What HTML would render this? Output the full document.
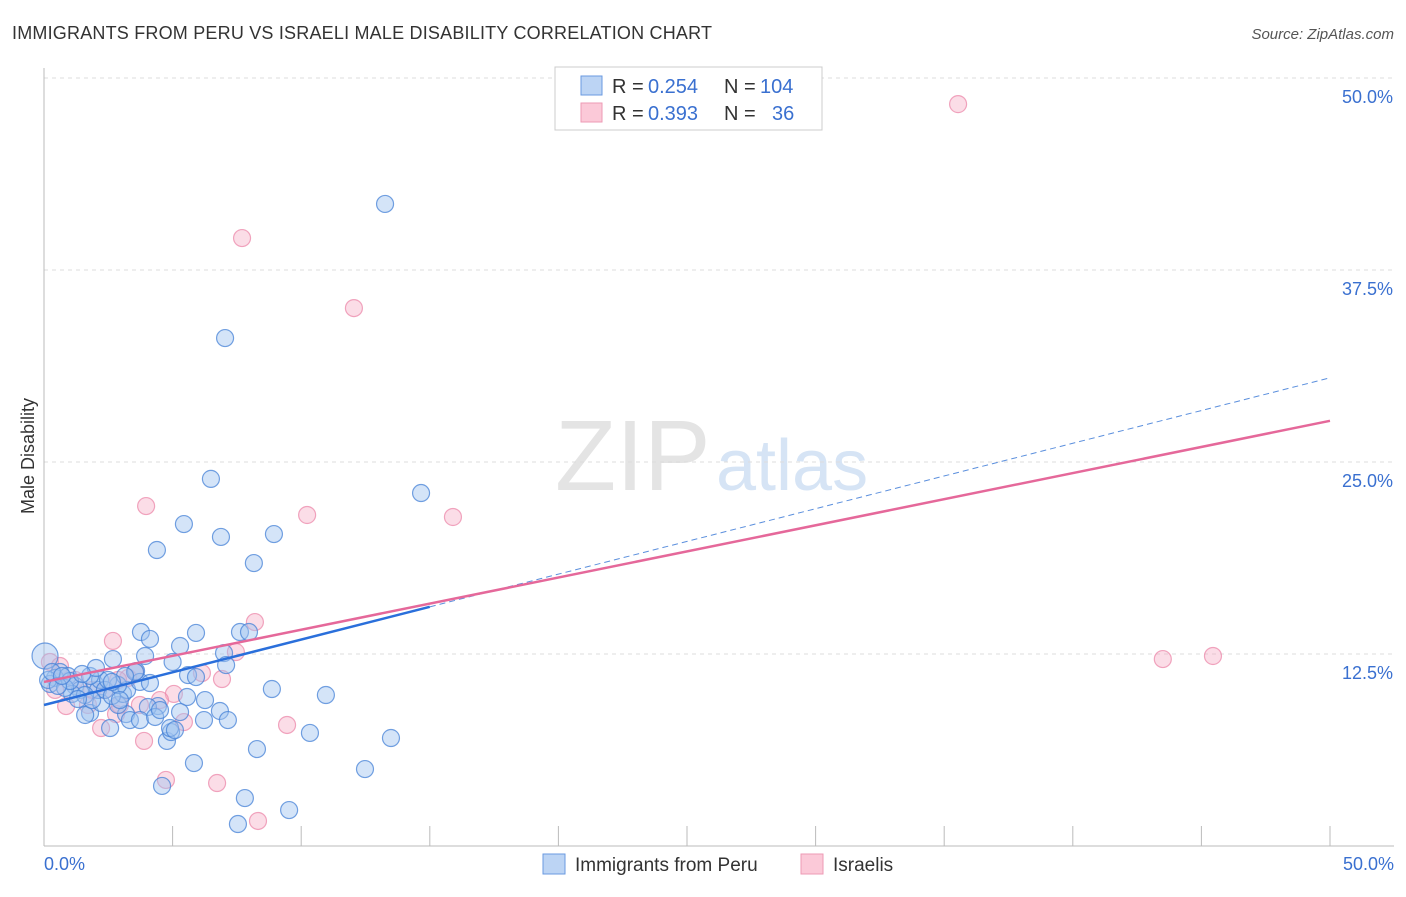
<!DOCTYPE html>
<html><head><meta charset="utf-8"><style>
body{margin:0;background:#fff;font-family:"Liberation Sans",sans-serif;}
svg text{font-family:"Liberation Sans",sans-serif;}
</style></head><body>
<svg id="c" width="1406" height="892">
<text x="12" y="39" font-size="18" fill="#333" textLength="700">IMMIGRANTS FROM PERU VS ISRAELI MALE DISABILITY CORRELATION CHART</text>
<text x="1394" y="39" font-size="15" fill="#555" text-anchor="end" font-style="italic">Source: ZipAtlas.com</text>
<text x="555" y="490" font-size="100" fill="#e4e4e4" font-family="Liberation Serif">ZIP</text>
<text x="716" y="490" font-size="72" fill="#d6e4f5">atlas</text>
<g id="grid"></g><g id="pts"></g><g id="lines"></g>
<text transform="translate(34,456) rotate(-90)" font-size="18" fill="#333" text-anchor="middle">Male Disability</text>
<text x="44" y="870" font-size="18" fill="#3a70d0">0.0%</text>
<text x="1394" y="870" font-size="18" fill="#3a70d0" text-anchor="end">50.0%</text>
<g>
<rect x="555" y="67" width="267" height="63" fill="#fff" stroke="#ccc"/>
<rect x="581" y="76" width="21" height="19" fill="#bcd4f4" stroke="#6a9ae0"/>
<rect x="581" y="103" width="21" height="19" fill="#fbc9d8" stroke="#ee9ab4"/>
<text x="612" y="93" font-size="20" fill="#333">R =</text>
<text x="648" y="93" font-size="20" fill="#3a70d0">0.254</text>
<text x="724" y="93" font-size="20" fill="#333">N =</text>
<text x="760" y="93" font-size="20" fill="#3a70d0">104</text>
<text x="612" y="120" font-size="20" fill="#333">R =</text>
<text x="648" y="120" font-size="20" fill="#3a70d0">0.393</text>
<text x="724" y="120" font-size="20" fill="#333">N =</text>
<text x="772" y="120" font-size="20" fill="#3a70d0">36</text>
</g>
<g>
<rect x="543" y="854" width="22" height="20" fill="#bcd4f4" stroke="#6a9ae0"/>
<text x="575" y="871" font-size="19" fill="#333">Immigrants from Peru</text>
<rect x="801" y="854" width="22" height="20" fill="#fbc9d8" stroke="#ee9ab4"/>
<text x="833" y="871" font-size="19" fill="#333">Israelis</text>
</g>
</svg>
<script>
const yTicks=[12.5,25,37.5,50];
const yTickLabels=["12.5%","25.0%","37.5%","50.0%"];
const blueX=[13.26,7.04,6.49,14.66,5.44,4.39,6.88,8.94,8.16,3.77,4.12,5.29,5.91,7.62,7.97,2.68,3.93,5.0,7.0,7.08,3.58,0.04,8.86,10.96,5.6,5.91,6.26,5.56,6.84,7.15,6.22,4.78,4.94,5.83,8.28,10.34,13.49,12.48,7.81,7.54,9.53,4.59,4.43,4.04,3.19,3.34,2.57,1.79,1.6,2.22,2.88,3.07,3.23,3.73,3.54,0.62,0.43,0.23,0.16,0.31,0.93,1.21,1.4,1.09,1.98,2.1,2.18,1.79,0.82,1.01,2.37,2.64,2.88,3.15,0.54,0.7,1.59,1.87,1.32,2.95,4.12,3.73,4.32,4.51,4.9,5.09,5.29,2.49,2.02,1.48,2.64];
const blueY=[41.8,33.07,23.9,22.98,20.96,19.27,20.12,20.31,18.42,13.93,13.48,13.02,13.87,13.93,13.93,12.17,12.37,11.98,12.56,11.78,11.39,12.37,10.22,9.83,11.13,11.0,9.5,9.7,8.79,8.2,8.2,6.84,7.42,5.4,6.31,7.36,7.03,5.01,3.12,1.43,2.34,3.91,9.11,9.05,8.59,8.2,7.68,8.66,8.53,9.31,9.18,9.9,10.16,10.68,11.33,11.33,10.94,10.55,10.81,11.33,11.07,10.42,10.16,9.9,10.55,10.16,10.81,11.07,10.29,10.74,10.16,9.77,10.48,11.07,10.42,11.07,9.83,9.5,9.57,9.5,10.61,8.2,8.4,8.85,7.68,7.55,8.72,10.81,11.59,11.2,10.68];
const pinkX=[35.54,7.7,12.05,3.97,10.23,15.9,8.2,43.5,45.45,2.68,7.46,6.14,6.92,5.05,5.44,9.45,3.89,4.74,6.73,8.32,2.22,0.86,0.23,0.62,1.71,2.8,3.27,3.54,2.37,2.95,4.51,2.88,1.21,1.87,0.43,3.73];
const pinkY=[48.3,39.58,35.02,22.13,21.55,21.42,14.58,12.17,12.37,13.35,12.63,11.26,10.87,9.9,8.07,7.88,6.84,4.3,4.1,1.63,7.68,9.11,11.98,11.72,9.18,8.59,10.94,11.33,10.16,9.18,9.5,10.81,10.81,10.16,10.16,9.18];
const blueLine=[9.18,0.426,15];const pinkLine=[10.68,0.34];
const X=v=>44+v/50*1286, Y=v=>846-v/12.5*192;
const NS="http://www.w3.org/2000/svg";
function mk(t,a,p){const e=document.createElementNS(NS,t);for(const k in a)e.setAttribute(k,a[k]);p.appendChild(e);return e;}
const g=document.getElementById('grid');
yTicks.forEach((t,i)=>{
 const l=mk('line',{x1:44,x2:1394,y1:Y(t),y2:Y(t),stroke:'#ddd','stroke-dasharray':'4,4'},g);
 
 
 const tx=mk('text',{x:1393,y:Y(t)+25,'font-size':18,fill:'#3a70d0','text-anchor':'end'},g);
 tx.textContent=yTickLabels[i];
 
 
});
mk('line',{x1:44,x2:44,y1:68,y2:846,stroke:'#bbb'},g);
mk('line',{x1:44,x2:1394,y1:846,y2:846,stroke:'#bbb'},g);
for(let k=1;k<=10;k++){const t=mk('line',{x1:X(k*5),x2:X(k*5),y1:826,y2:846,stroke:'#bbb'},g);
 
 }
const P=document.getElementById('pts');
pinkX.forEach((x,i)=>{const c=mk('circle',{cx:X(x),cy:Y(pinkY[i]),r:8.5,fill:'rgba(246,170,195,0.4)',stroke:'rgba(235,130,165,0.7)','stroke-width':1.2},P);
 
 });
blueX.forEach((x,i)=>{const c=mk('circle',{cx:X(x),cy:Y(blueY[i]),r:i==21?13:8.5,fill:'rgba(160,195,240,0.45)',stroke:'rgba(70,130,215,0.75)','stroke-width':1.2},P);
 
 });
const L=document.getElementById('lines');
let a=mk('line',{x1:X(0),y1:Y(blueLine[0]),x2:X(blueLine[2]),y2:Y(blueLine[0]+blueLine[1]*blueLine[2]),stroke:'#2a6fdb','stroke-width':2.5},L);


a=mk('line',{x1:X(blueLine[2]),y1:Y(blueLine[0]+blueLine[1]*blueLine[2]),x2:X(50),y2:Y(blueLine[0]+blueLine[1]*50),stroke:'#5b8fdd','stroke-width':1,'stroke-dasharray':'6,4'},L);


a=mk('line',{x1:X(0),y1:Y(pinkLine[0]),x2:X(50),y2:Y(pinkLine[0]+pinkLine[1]*50),stroke:'#e5689a','stroke-width':2.5},L);


</script>
</body></html>
